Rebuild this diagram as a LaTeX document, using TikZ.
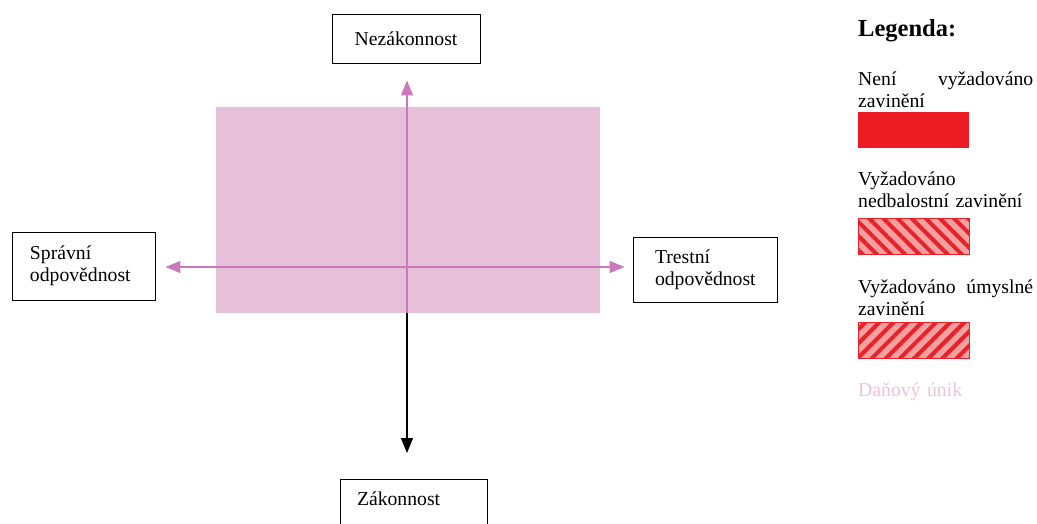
\documentclass[tikz,border=0pt]{standalone}
\usepackage{fontspec}
\setmainfont{Liberation Serif}
\usetikzlibrary{arrows.meta, positioning, patterns.meta}
\definecolor{zonefill}{RGB}{230,191,216}
\definecolor{axispink}{RGB}{204,120,188}
\definecolor{strictred}{RGB}{237,28,36}
\definecolor{hatchred}{RGB}{232,34,40}
\definecolor{hatchbg}{RGB}{244,160,160}
\definecolor{evasionpink}{RGB}{236,194,222}
\newcommand{\bodysize}{\fontsize{19.7}{22}\selectfont}
\tikzset{
  termbox/.style={draw=black, line width=0.9pt, font=\bodysize, inner ysep=4pt},
  zone/.style={fill=zonefill, minimum width=384pt, minimum height=206pt, inner sep=0pt},
  pinkarrow/.style={-{Triangle[length=15pt, width=12pt]}, line width=1.4pt, color=axispink},
  blackarrow/.style={-{Triangle[length=15pt, width=12pt]}, line width=1.2pt, color=black},
  legendtitle/.style={font=\fontsize{24.5}{28}\selectfont\bfseries, anchor=base west, inner sep=0pt},
  legendtext/.style={font=\bodysize, text width=175pt, align=left, inner sep=0pt, anchor=base west},
  swatch/.style={minimum width=111pt, minimum height=36pt, inner sep=0pt, outer sep=0pt, anchor=north west},
  hatchnw/.style={draw=hatchred, line width=0.6pt, preaction={fill=hatchbg}, pattern={Lines[angle=-45, distance=10pt, line width=4pt]}, pattern color=hatchred},
  hatchne/.style={draw=hatchred, line width=0.6pt, preaction={fill=hatchbg}, pattern={Lines[angle=45, distance=10pt, line width=4pt]}, pattern color=hatchred},
}

\begin{document}
\begin{tikzpicture}[x=1pt, y=1pt]
  \useasboundingbox (0,0) rectangle (1037,-523);
  \clip (0,0) rectangle (1037,-523);

  % --- Terms ---
  \node[termbox, minimum width=148pt, minimum height=49pt] (nez) at (406,-38.5) {Nezákonnost};
  \node[termbox, text width=107pt, inner xsep=18pt, minimum height=68pt, align=left] (spr) at (83.5,-266) {Správní\\odpovědnost};
  \node[termbox, text width=100pt, inner xsep=22pt, minimum height=65pt, align=left] (tre) at (705,-269.5) {Trestní\\odpovědnost};
  \node[termbox, anchor=north, text width=113pt, inner xsep=17pt, inner ysep=5pt, text height=21pt, text depth=40pt, align=left] (zak) at (413.5,-479) {Zákonnost};

  % --- Zone ---
  \coordinate (origin) at (407,-267);
  \node[zone] (evzone) at (408,-210) {};

  % --- Axes ---
  \draw[blackarrow, shorten >=26pt] (evzone.south -| origin) -- (zak.north -| origin);
  \draw[pinkarrow, shorten >=17pt] (evzone.south -| origin) -- (nez.south -| origin);
  \draw[pinkarrow, {Triangle[length=15pt, width=12pt]}-{Triangle[length=15pt, width=12pt]}, shorten <=10pt, shorten >=8pt] (spr.east |- origin) -- (tre.west |- origin);

  % --- Legend ---
  \node[legendtitle] (legtitle) at (858,-36) {Legenda:};
  \node[legendtext] (strict) at (858,-85) {Není\hfill vyžadováno\\zavinění};
  \node[swatch, fill=strictred] (strictbox) at (858,-112) {};
  \node[legendtext] (negl) at (858,-185) {Vyžadováno\\nedbalostní zavinění};
  \node[swatch, hatchnw] (neglbox) at (858,-218) {};
  \node[legendtext] (intent) at (858,-293) {Vyžadováno\hfill úmyslné\\zavinění};
  \node[swatch, hatchne] (intentbox) at (858,-322) {};
  \node[legendtext, text=evasionpink] (evasion) at (858,-396.7) {Daňový únik};

\end{tikzpicture}
\end{document}
